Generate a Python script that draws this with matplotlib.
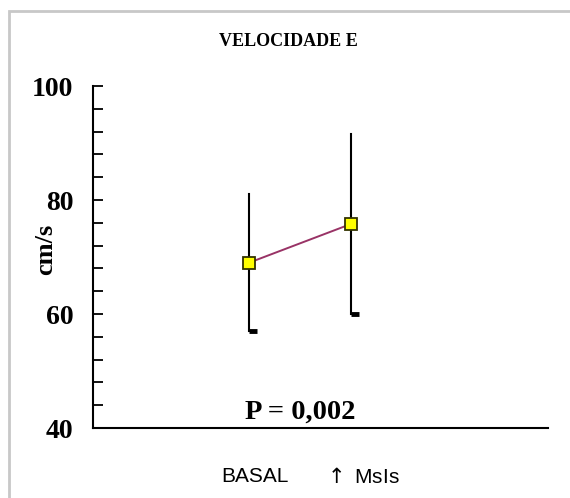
import matplotlib.pyplot as plt
import matplotlib.transforms as mtransforms
from matplotlib.patches import Rectangle

plt.rcParams['mathtext.fontset'] = 'dejavusans'

# data
groups = ['BASAL', r'$\uparrow$ MsIs']
means = [69.0, 75.8]
upper = [81.0, 91.6]
lower = [57.0, 60.0]
p_text = 'P = 0,002'

serif = 'Liberation Serif'
sans = 'Liberation Sans'

fig = plt.figure(figsize=(5.70, 4.98), dpi=100)
fig.patch.set_facecolor('white')
# outer gray frame (cut at right/bottom like the original)
fig.patches.append(Rectangle((9/570, -0.05), 1.0, 1 - 11/498 + 0.05,
                             transform=fig.transFigure, fill=False,
                             edgecolor='#c8c8c8', linewidth=2))

ax = fig.add_axes([93/570, 1 - 428/498, (548 - 93)/570, (428 - 86)/498])
x = list(range(len(groups)))

# error bars: plain line, small block at the lower end
for xi, lo, hi in zip(x, lower, upper):
    ax.plot([xi, xi], [lo, hi], color='black', lw=1.5, zorder=2)
    ax.plot([xi, xi + 0.075], [lo, lo], color='black', lw=3.5,
            solid_capstyle='butt', zorder=2)

ax.plot(x, means, color='#993366', lw=1.4, marker='s', markersize=8,
        markerfacecolor='#ffff00', markeredgecolor='#333300',
        markeredgewidth=1.3, zorder=3)

ax.set_xlim(-1.53, 2.93)
ax.set_ylim(40, 100)
ax.set_yticks([40, 60, 80, 100])
ax.set_yticks(range(40, 101, 4), minor=True)
ax.tick_params(axis='y', which='both', direction='in', length=7, width=1.3,
               pad=14)
for lab in ax.get_yticklabels():
    lab.set_fontfamily(serif)
    lab.set_fontweight('bold')
    lab.set_fontsize(20)

ax.set_xticks(x)
ax.set_xticklabels(groups, fontfamily=sans, fontsize=15)
ax.tick_params(axis='x', length=0, pad=28)
for lab, dx in zip(ax.get_xticklabels(), [6, 10]):
    offset = mtransforms.ScaledTranslation(dx/100, 0, fig.dpi_scale_trans)
    lab.set_transform(lab.get_transform() + offset)

for side in ['top', 'right']:
    ax.spines[side].set_visible(False)
ax.spines['left'].set_linewidth(1.5)
ax.spines['bottom'].set_linewidth(1.5)

fig.text(46/570, 1 - 249/498, 'cm/s', rotation=90, ha='center', va='center',
         fontfamily=serif, fontweight='bold', fontsize=19)
fig.text(288/570, 1 - 41/498, 'VELOCIDADE E', ha='center', va='center',
         fontfamily=serif, fontweight='bold', fontsize=13)
ax.text(0.5, 42.8, p_text, ha='center', va='center', fontfamily=serif,
        fontweight='bold', fontsize=20.5)

fig.savefig('out.png', dpi=100)
